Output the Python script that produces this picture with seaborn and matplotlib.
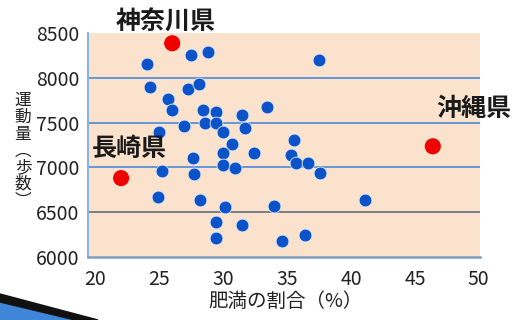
import pandas as pd
import matplotlib.pyplot as plt
import seaborn as sns
from matplotlib.patches import Polygon

# Data: obesity rate (%) vs daily steps per prefecture
obesity = [24.0, 27.5, 28.8, 24.3, 27.2, 28.1, 25.7, 26.0, 28.4, 29.4,
           31.5, 26.9, 28.6, 29.4, 30.0, 31.7, 25.0, 30.7, 27.6, 30.0,
           32.4, 25.2, 27.7, 30.0, 30.9, 24.9, 28.2, 30.1, 29.4, 31.5,
           29.4, 37.5, 33.4, 35.5, 35.3, 35.7, 36.6, 37.6, 34.0, 41.1,
           34.6, 36.4]
steps = [8150, 8255, 8290, 7900, 7880, 7930, 7760, 7645, 7645, 7615,
         7580, 7460, 7500, 7495, 7400, 7435, 7390, 7265, 7110, 7165,
         7160, 6955, 6930, 7025, 6990, 6670, 6635, 6560, 6390, 6360,
         6210, 8195, 7670, 7305, 7135, 7045, 7045, 6940, 6565, 6640,
         6175, 6240]

hl_names = ["神奈川県", "長崎県", "沖縄県"]
hl_obesity = [26.0, 22.0, 46.4]
hl_steps = [8385, 6880, 7235]
hl_offsets = [(-7, 21), (8, 29), (41, 37)]   # label offset in pixels

xticks = [20, 25, 30, 35, 40, 45, 50]
yticks = [6000, 6500, 7000, 7500, 8000, 8500]

sns.set_style("white")
plt.rcParams["font.family"] = ["Noto Sans CJK JP", "DejaVu Sans"]

df = pd.DataFrame({"obesity": obesity, "steps": steps})
hl = pd.DataFrame({"name": hl_names, "obesity": hl_obesity, "steps": hl_steps})

fig = plt.figure(figsize=(5.14, 3.2), dpi=100)
fig.patch.set_facecolor("white")
ax = fig.add_axes([0.171, 0.197, 0.763, 0.7])
ax.set_facecolor("#fbe2cd")

sns.scatterplot(data=df, x="obesity", y="steps", color="#0c52c8", s=85,
                edgecolor="#dfe8f8", linewidth=0.6, ax=ax, zorder=3)
sns.scatterplot(data=hl, x="obesity", y="steps", color="#f00000", s=135,
                edgecolor="none", ax=ax, zorder=4)

for name, x, y, off in zip(hl_names, hl_obesity, hl_steps, hl_offsets):
    ax.annotate(name, (x, y), xytext=off, textcoords="offset pixels",
                ha="center", va="center", fontsize=18, fontweight="bold",
                color="#1a1a1a", zorder=5, annotation_clip=False)

ax.set_xlim(19.4, 50.1)
ax.set_ylim(6000, 8500)
ax.set_xticks(xticks)
ax.set_yticks(yticks)
ax.tick_params(axis="x", direction="in", length=7, color="#8a96a3",
               labelsize=14, pad=9, labelcolor="#222222")
ax.tick_params(axis="y", length=0, labelsize=14, pad=6, labelcolor="#222222")

# horizontal guide lines (6500 line is grey in the original)
ax.yaxis.grid(True, color="#5b8fd6", linewidth=1.3)
ax.set_axisbelow(True)
grid_lines = ax.yaxis.get_gridlines()
grid_lines[1].set_color("#6f7782")
grid_lines[0].set_visible(False)
grid_lines[-1].set_visible(False)

for side in ["top", "right"]:
    ax.spines[side].set_visible(False)
ax.spines["left"].set_color("#8fb2da")
ax.spines["left"].set_linewidth(1.5)
ax.spines["bottom"].set_color("#7f9cc2")
ax.spines["bottom"].set_linewidth(1.8)

ax.set_xlabel("")
ax.set_ylabel("")
fig.text(285 / 514, 1 - 301 / 320, "肥満の割合（%）", ha="center", va="center",
         fontsize=14, color="#222222")
fig.text(23 / 514, 1 - 151 / 320, "\n".join("運動量︵歩数︶"), ha="center",
         va="center", fontsize=12, linespacing=0.98, color="#222222")

# decorative swoosh in the bottom-left corner
W, H = 514, 320
blue = [(0, 302), (75, 320), (0, 320)]
band = [(0, 294), (98, 320), (75, 320), (0, 302)]
fig.patches.append(Polygon([(x / W, 1 - y / H) for x, y in blue], closed=True,
                           transform=fig.transFigure, color="#3f86d8"))
fig.patches.append(Polygon([(x / W, 1 - y / H) for x, y in band], closed=True,
                           transform=fig.transFigure, color="#111111"))

plt.savefig("out.png", dpi=100)
plt.close()
